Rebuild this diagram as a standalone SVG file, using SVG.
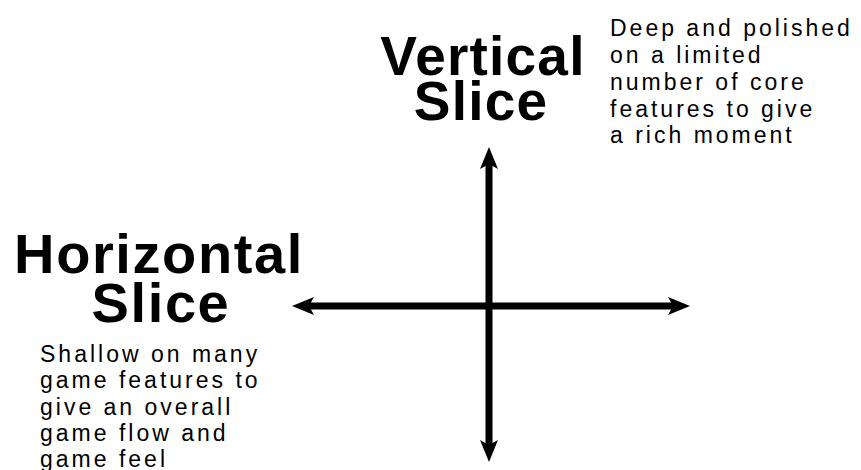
<svg xmlns="http://www.w3.org/2000/svg" width="861" height="470" viewBox="0 0 861 470">
<style>
.title{font-family:"Liberation Sans",Arial,sans-serif;font-weight:bold;fill:#000;text-anchor:middle}
.desc{font-family:"Liberation Sans",Arial,sans-serif;font-size:23px;letter-spacing:3px;fill:#000}
.axis{stroke:#000;stroke-width:7;fill:none}
</style>
<defs>
<marker id="ah" markerUnits="userSpaceOnUse" markerWidth="30" markerHeight="24" viewBox="0 -12 30 24" refX="12" refY="0" orient="auto-start-reverse">
<path d="M0,-9 L22,0 L0,9 L5,0 Z" fill="#000"/>
</marker>
</defs>
<rect width="861" height="470" fill="#fff"/>
<g id="connectors">
<line class="axis" x1="489" y1="157" x2="489" y2="452" marker-start="url(#ah)" marker-end="url(#ah)"/>
<line class="axis" x1="302" y1="306" x2="680" y2="306" marker-start="url(#ah)" marker-end="url(#ah)"/>
</g>
<g id="vertical-slice">
<text class="title" font-size="55" letter-spacing="1.2" x="483" y="75">Vertical</text>
<text class="title" font-size="55" letter-spacing="1.2" x="481" y="120">Slice</text>
</g>
<g id="vertical-desc">
<text class="desc" x="610" y="36">Deep and polished</text>
<text class="desc" x="610" y="63">on a limited</text>
<text class="desc" x="610" y="90">number of core</text>
<text class="desc" x="610" y="117">features to give</text>
<text class="desc" x="610" y="143">a rich moment</text>
</g>
<g id="horizontal-slice">
<text class="title" font-size="56" letter-spacing="1.6" x="159" y="273">Horizontal</text>
<text class="title" font-size="56" letter-spacing="1.6" x="161" y="322">Slice</text>
</g>
<g id="horizontal-desc">
<text class="desc" x="40" y="362">Shallow on many</text>
<text class="desc" x="40" y="388">game features to</text>
<text class="desc" x="40" y="415">give an overall</text>
<text class="desc" x="40" y="441">game flow and</text>
<text class="desc" x="40" y="467">game feel</text>
</g>
</svg>
